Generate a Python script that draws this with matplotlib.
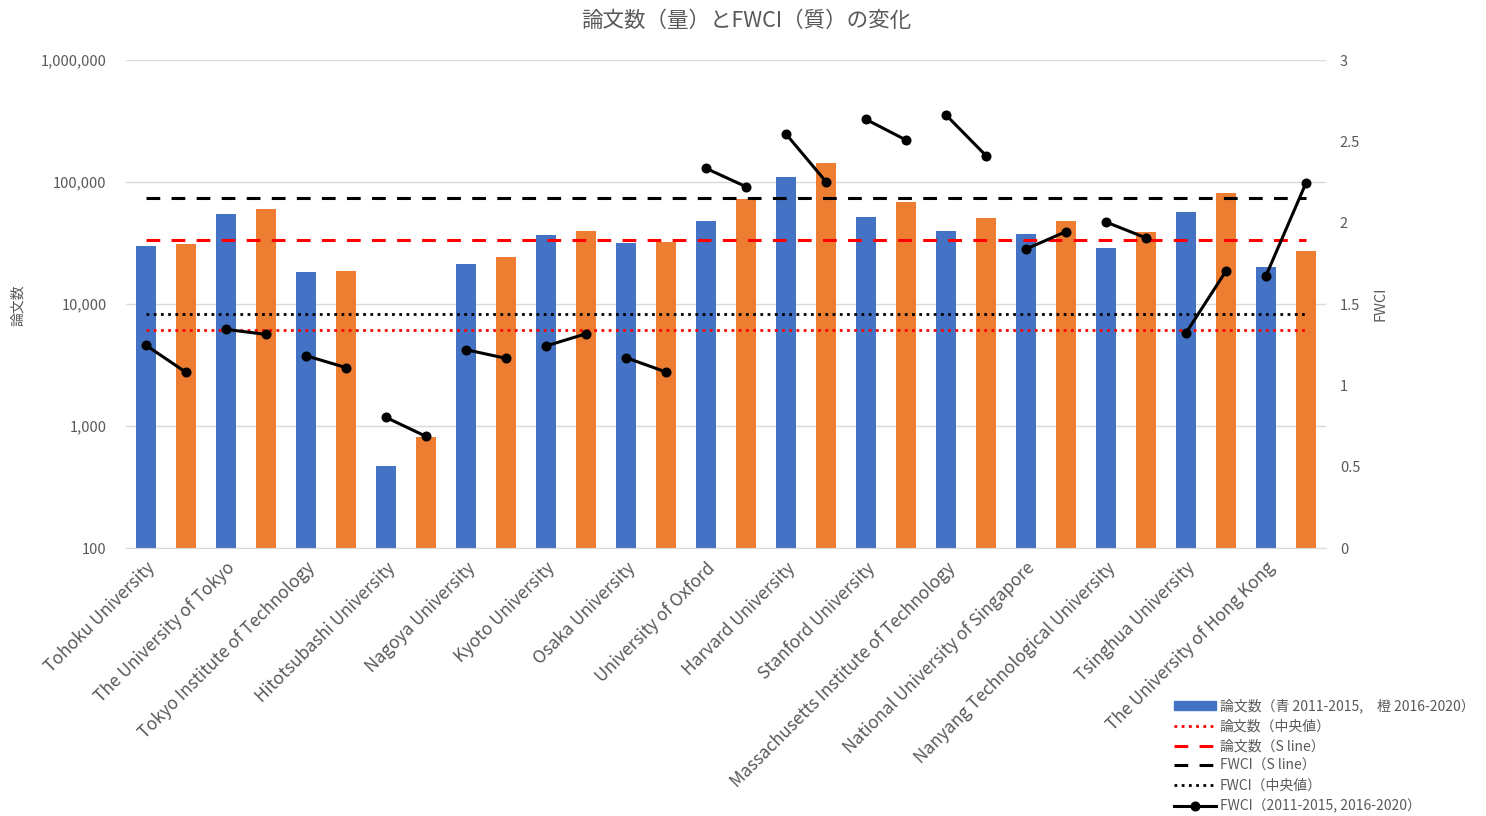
import numpy as np
import matplotlib
matplotlib.use("Agg")
import matplotlib.pyplot as plt
from matplotlib.patches import Patch
from matplotlib.lines import Line2D

plt.rcParams['font.family'] = ['Noto Sans CJK JP', 'DejaVu Sans']

universities = [
    "Tohoku University", "The University of Tokyo", "Tokyo Institute of Technology",
    "Hitotsubashi University", "Nagoya University", "Kyoto University", "Osaka University",
    "University of Oxford", "Harvard University", "Stanford University",
    "Massachusetts Institute of Technology", "National University of Singapore",
    "Nanyang Technological University", "Tsinghua University", "The University of Hong Kong",
]
# paper counts
papers_2011_2015 = [29900, 54300, 18300, 470, 21100, 36600, 31800, 48200, 110600,
                    52000, 39400, 37300, 28600, 56400, 20200]
papers_2016_2020 = [30800, 59700, 18700, 817, 24300, 39900, 32200, 72100, 143900,
                    68500, 50700, 48200, 38900, 81300, 27200]
# FWCI
fwci_2011_2015 = [1.246, 1.344, 1.182, 0.803, 1.219, 1.242, 1.170, 2.334, 2.545,
                  2.635, 2.662, 1.838, 2.004, 1.322, 1.674]
fwci_2016_2020 = [1.080, 1.313, 1.109, 0.686, 1.166, 1.317, 1.082, 2.221, 2.252,
                  2.508, 2.412, 1.945, 1.906, 1.703, 2.244]

papers_median = 6120
papers_sline = 33650
fwci_sline = 2.15
fwci_median = 1.44

blue = "#4472C4"
orange = "#ED7D31"
gray = "#595959"
grid = "#D9D9D9"

n = len(universities)
xb = np.arange(n) * 2
xo = xb + 1

fig = plt.figure(figsize=(14.86, 8.16), dpi=100)
ax = fig.add_axes([126/1486, 1-548/816, 1200/1486, 488/816])
ax2 = ax.twinx()

ax.bar(xb, papers_2011_2015, width=0.5, color=blue, zorder=2)
ax.bar(xo, papers_2016_2020, width=0.5, color=orange, zorder=2)
ax.set_yscale('log')
ax.set_ylim(100, 1e6)
ax.set_xlim(-0.5, 2*n - 0.5)

# horizontal reference lines
ax.plot([0, 2*n-1], [papers_median]*2, color='red', lw=2.0,
        linestyle=(0, (1, 1.6)), zorder=3)
ax.plot([0, 2*n-1], [papers_sline]*2, color='red', lw=2.2,
        linestyle=(0, (4.5, 3.7)), zorder=3)
ax2.plot([0, 2*n-1], [fwci_sline]*2, color='black', lw=2.2,
         linestyle=(0, (4.5, 3.7)))
ax2.plot([0, 2*n-1], [fwci_median]*2, color='black', lw=2.0,
         linestyle=(0, (1, 1.6)))

# FWCI pairs
fx, fy = [], []
for i in range(n):
    fx += [xb[i], xo[i], np.nan]
    fy += [fwci_2011_2015[i], fwci_2016_2020[i], np.nan]
ax2.plot(fx, fy, color='black', lw=2.2, marker='o', markersize=6.2)
ax2.set_ylim(0, 3)

# axes styling
yt = [100, 1000, 10000, 100000, 1000000]
ax.set_yticks(yt)
ax.set_yticklabels([f"{v:,}" for v in yt])
ax.yaxis.set_minor_locator(matplotlib.ticker.NullLocator())
ax.grid(axis='y', color=grid, lw=1, zorder=0)
ax.set_axisbelow(True)
ax.tick_params(axis='y', length=0, pad=14, labelsize=10.5, labelcolor=gray)
ax2.set_yticks([0, 0.5, 1, 1.5, 2, 2.5, 3])
ax2.set_yticklabels(["0", "0.5", "1", "1.5", "2", "2.5", "3"])
ax2.tick_params(axis='y', length=0, pad=10, labelsize=10.5, labelcolor=gray)

ax.set_xticks(xb)
ax.set_xticklabels(universities, rotation=45, ha='right', va='top',
                   rotation_mode='anchor', fontsize=12.5, color=gray)
ax.tick_params(axis='x', length=0, pad=8)

for a in (ax, ax2):
    for s in ('top', 'left', 'right'):
        a.spines[s].set_visible(False)
    a.spines['bottom'].set_color(grid)
ax2.spines['bottom'].set_visible(False)

fig.text(746/1486, 1-21/816, "論文数（量）とFWCI（質）の変化", ha='center', va='center',
         fontsize=15.5, color=gray)
fig.text(18/1486, 1-305/816, "論文数", rotation=90, ha='center', va='center',
         fontsize=10, color=gray)
fig.text(1380/1486, 1-304/816, "FWCI", rotation=90, ha='center', va='center',
         fontsize=10.5, color=gray)

handles = [
    Patch(color=blue),
    Line2D([], [], color='red', lw=2.0, linestyle=(0, (1, 1.6))),
    Line2D([], [], color='red', lw=2.2, linestyle=(0, (4.5, 3.7))),
    Line2D([], [], color='black', lw=2.2, linestyle=(0, (4.5, 3.7))),
    Line2D([], [], color='black', lw=2.0, linestyle=(0, (1, 1.6))),
    Line2D([], [], color='black', lw=2.2, marker='o', markersize=6.2),
]
labels = [
    "論文数（青 2011-2015,　橙 2016-2020）",
    "論文数（中央値）",
    "論文数（S line）",
    "FWCI（S line）",
    "FWCI（中央値）",
    "FWCI（2011-2015, 2016-2020）",
]
leg = fig.legend(handles, labels, loc='upper left', bbox_to_anchor=(1167/1486, 1-692/816),
                 frameon=False, fontsize=10, labelcolor=gray, borderpad=0,
                 handlelength=3.0, handleheight=0.6, handletextpad=0.3, labelspacing=0.42)

fig.savefig("out.png", dpi=100)
